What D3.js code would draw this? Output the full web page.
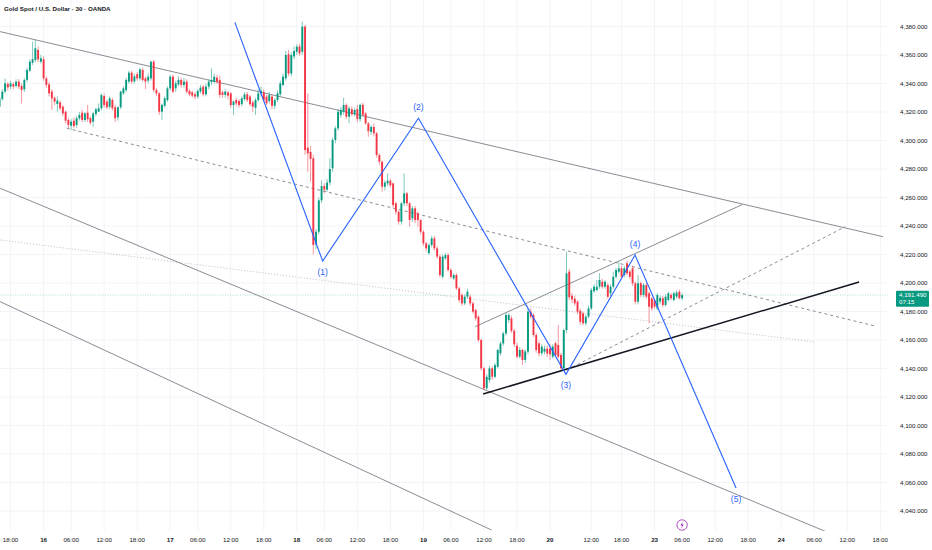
<!DOCTYPE html>
<html lang="en">
<head>
<meta charset="UTF-8">
<script src="https://d3js.org/d3.v7.min.js"></script>
<style>
  body { margin: 0; background: #fff; }
  text { font-family: "Liberation Sans", Arial, sans-serif; }
</style>
</head>
<body>
<svg id="chart" width="932" height="550"></svg>
<script>
// 30 min candles [open, high, low, close], one array per session, bars are consecutive
const day15 = [
  [4323.7,4331,4322,4329.6],[4329.2,4336,4328,4334.3],[4334.3,4343.5,4333,4340.1],[4339.7,4341,4335,4337.3],
  [4337.8,4342,4336,4340.1],[4339.5,4341,4336,4337.8],[4338.3,4343,4337,4341.3],[4341.3,4343,4336,4337.8],
  [4338.3,4340,4326,4335.4],[4335.9,4344,4334,4342.5],[4342.5,4351,4341,4349.5],[4349,4357,4348,4355.3],
  [4354.6,4369.4,4353,4357],[4356.5,4370.5,4355,4364.7],[4363.5,4366,4355,4357],[4355.3,4360,4354,4357.7]
];
const day16 = [
  [4357,4359,4342,4343.6],[4343.6,4345,4337,4339],[4339.4,4341,4331,4333.1],[4334.3,4336,4321.4,4329.6],
  [4330,4331,4325,4327.3],[4325.6,4331,4320.2,4328],[4326.8,4328,4321,4322.6],[4323.7,4325,4317,4319],
  [4320.2,4321,4312,4313.9],[4314.4,4316,4308.6,4310.9],[4310.4,4315,4307.4,4313.2],[4313.9,4316,4308.6,4310.2],
  [4310.9,4317,4309,4315.6],[4315.6,4320,4314,4317.9],[4319.5,4321.5,4313,4314.4],[4314.4,4320,4313,4319],
  [4319.5,4325,4313,4314.9],[4315.6,4317,4311,4312.5],[4313.2,4320,4309.7,4319],[4318.6,4323,4317,4321.9],
  [4320.2,4326,4320,4322.6],[4322.6,4333,4321,4331.9],[4331.2,4333,4323,4324.9],[4327.3,4328.5,4322,4323.3],
  [4323.7,4331,4322,4329.6],[4328.4,4330,4321,4322.6],[4323.3,4325,4313,4315.6],[4316.3,4324,4314,4323.3],
  [4323.3,4335,4322,4334.3],[4333.1,4338,4332,4336.6],[4335.4,4344,4334,4342.5],[4341.3,4349,4340,4347.6],
  [4347.6,4349,4340,4341.3],[4341.5,4347,4340,4345],[4346.5,4348,4342,4343.6],[4343.6,4351,4342,4349.9],
  [4349.5,4351,4341,4342.5],[4343.6,4345,4336,4341.3],[4342,4347,4340,4344.8],[4343.6,4356,4342,4355.3],
  [4355.3,4356.5,4334,4335.4],[4335.4,4337,4331,4333.1],[4333.1,4334,4318,4320.2],[4320.2,4326,4314.4,4325],
  [4324.4,4331,4323,4329.6],[4328.4,4338,4327,4336.6]
];
const day17 = [
  [4336.6,4346,4335,4344.8],[4344.8,4346,4333,4334.3],[4336.6,4342,4334,4340.1],[4339.4,4345,4338,4342.5],
  [4342.5,4344,4337,4339],[4339,4344,4337,4341.3],[4341.3,4343,4333,4334.3],[4334.8,4336,4331,4332.4],
  [4333.8,4335,4330,4331.5],[4332.4,4334,4329,4330.8],[4330.8,4336,4329.5,4334.8],[4334.3,4339,4333,4337.1],
  [4337.8,4339,4331,4332.4],[4332.4,4340,4331,4337.8],[4337.8,4343,4336,4341.3],[4341,4350.6,4339,4342.5],
  [4341.3,4347,4340,4344.8],[4344.1,4346,4340,4341.3],[4342.5,4345.5,4330,4332],[4333.8,4335,4330,4332],
  [4332,4336,4330,4334.3],[4333.8,4335,4329,4331.5],[4333.1,4334,4323,4324.9],[4324.9,4328,4318,4327.3],
  [4328.4,4330,4324,4326.1],[4327.7,4329,4323,4324.9],[4325.5,4331,4324,4329.6],[4329.1,4334,4328,4332.4],
  [4332.4,4334,4327,4328.4],[4330.8,4332,4324,4325.4],[4326.8,4328,4320,4323.7],[4323,4330,4318,4328.4],
  [4328.4,4336,4327,4333.1],[4333.1,4338,4331,4334.9],[4333.8,4336,4327,4328.4],[4330.8,4332,4325,4326.1],
  [4327.7,4334,4326,4331.9],[4330.8,4332,4322,4324.4],[4324.4,4330,4322,4328.4],[4328.4,4335,4327,4333.1],
  [4332.4,4342,4331,4340.1],[4339,4347,4338,4344.8],[4343.6,4363,4342,4360],[4360.5,4363.5,4345,4347],
  [4347,4362,4345,4360],[4359,4366,4357,4362.8]
];
const day18 = [
  [4362.3,4367.5,4360,4365.8],[4366,4368,4359.5,4361.2],[4362.3,4383.4,4360,4379.9],[4379.9,4381,4290,4293.3],
  [4295,4333.1,4278.1,4291],[4292,4296,4271.1,4287],[4287.5,4290,4220.1,4226.7],[4227,4238,4224,4236],
  [4236,4260,4234,4258],[4258,4272,4256,4268],[4268,4270,4263,4265.5],[4265.5,4273,4264,4270.5],
  [4270.5,4287.5,4268.5,4280],[4280.5,4302,4278,4300.4],[4300.4,4310,4298,4308.5],[4308.5,4322,4307,4320.2],
  [4318,4323.5,4316,4321.5],[4320.2,4330,4318,4324.9],[4324.9,4326,4315,4316.7],[4316.7,4324,4312,4322.6],
  [4322,4324,4317,4318.5],[4318.5,4323,4317,4321.4],[4322,4325,4313,4315],[4315,4326,4313,4325],
  [4325,4326.5,4317,4318],[4319,4320,4311,4312],[4312,4313,4302.7,4306.5],[4306,4311,4304,4309.5],
  [4309.5,4312,4303,4305],[4305,4306,4288,4289.8],[4289.8,4291,4283,4285.1],[4285.1,4286,4264,4267.6],
  [4267.6,4272,4265,4270.5],[4269.9,4276.9,4268,4271.8],[4271.8,4273,4267,4268.5],[4269.9,4270.5,4253,4254.7],
  [4255.9,4257,4248,4250],[4250,4251,4241,4243],[4243,4257,4241,4255.9],[4255.9,4276.9,4254,4262.9],
  [4262.9,4264,4254,4255.9],[4255.9,4257,4239.5,4244.2],[4245.3,4254,4243,4252.4],[4252.4,4254,4242,4244.2],
  [4248.9,4250,4239.5,4244.2],[4244.2,4245,4234,4236]
];
const day19 = [
  [4236,4237,4226,4227.8],[4227.8,4229,4222,4224.3],[4221,4228,4219.6,4226.6],[4226.6,4233,4225,4231.3],
  [4231.3,4233,4223,4224.3],[4224.3,4226,4217,4218.5],[4218.5,4220,4204,4205.6],[4204.4,4220,4203,4218.5],
  [4217.3,4221,4216,4219.6],[4219.6,4221,4208,4209.1],[4209.1,4210.5,4203,4204.4],[4203.2,4207,4202,4205.6],
  [4205.6,4207,4195,4196.2],[4196.2,4197.5,4186.5,4188],[4191.5,4193,4184,4185.7],[4185.7,4192,4184.5,4190.4],
  [4190.4,4196,4189,4193.9],[4190.4,4192,4184,4185.7],[4185.7,4187,4178.5,4179.9],[4181,4182,4173.5,4175.2],
  [4176.3,4177.5,4158.5,4160],[4160,4161,4138.5,4140.1],[4140.1,4141,4124.9,4126.1],[4126.1,4136,4125,4134.2],
  [4131.9,4142,4130,4140.1],[4140.1,4141.5,4132,4134.2],[4134.2,4144,4133,4142.4],[4141.2,4154,4140,4153],
  [4150.6,4159,4149,4157.6],[4157.6,4166,4156,4164.6],[4164.6,4179,4163,4177.5],[4174,4178.7,4172,4177.5],
  [4175.2,4177,4165,4166.5],[4166.5,4168,4155,4157],[4156,4158,4147,4148.3],[4148.3,4155,4147,4153],
  [4153,4154,4142.5,4146],[4146,4153.5,4144,4152],[4151.8,4182,4150,4179.9],[4179.9,4182.3,4175,4176.4],
  [4177.5,4179,4162,4163.5],[4163.5,4165,4151,4153],[4157.7,4159,4148.5,4150.7],[4150.7,4157,4149,4155.4],
  [4151.8,4156,4150,4153.9],[4153.9,4156,4148,4150.5]
];
const day20 = [
  [4154,4157,4146,4150],[4148.3,4157,4147,4155.4],[4157.7,4159,4148,4149.5],[4156.5,4170.5,4147,4148.3],
  [4149.5,4151,4139,4140.2],[4140.2,4168,4139,4167],[4167,4222,4165,4206.8],[4208,4210,4188,4190],
  [4191,4193,4186,4188.5],[4189,4191,4184,4185.7],[4186.9,4188,4178,4179.9],[4180.5,4182,4170.5,4172.8],
  [4178.7,4180,4170.3,4171.7],[4171.7,4178,4170,4176.4],[4176.4,4184,4175,4182.2],[4182.2,4196.5,4181,4195.1],
  [4194.3,4199,4193,4197.4],[4195.1,4202.1,4194,4197.4],[4197.4,4206.8,4196,4202.1],[4200.9,4203,4196,4197.4],
  [4197.4,4202,4196,4200.9],[4198.6,4200,4189,4190.4],[4192.8,4199,4191,4197.4],[4197.4,4208,4196,4204.4],
  [4204.4,4210.5,4203,4209.1],[4207.9,4215,4206.5,4210.3],[4210.3,4212,4203,4204.4],[4205.6,4212,4204,4210.3],
  [4213.8,4215.7,4205.5,4206.8],[4208,4209,4203,4204.4],[4210.3,4212,4198,4199.8],[4199.8,4201,4185,4186.9],
  [4186.9,4205.6,4185,4199.8],[4199.8,4201,4190,4191.6],[4191.6,4200,4190,4198.6],[4198.6,4200,4189,4190.4],
  [4192.8,4194,4171.7,4183.4],[4189.2,4190,4180.5,4182.2]
];
const day23 = [
  [4188,4189,4182,4183.4],[4182.2,4193,4181,4191.6],[4187,4191,4185,4189.5],[4189.3,4191,4183,4184.6],
  [4184.6,4192,4183.5,4190.4],[4188.1,4194,4187,4192.8],[4191.6,4193,4188,4189.3],[4188.1,4194,4187,4192.8],
  [4190.4,4195,4189,4193.3],[4193.9,4195.5,4188.5,4189.3],[4189.3,4193,4188,4191.49]
];
const sessions = [day15, day16, day17, day18, day19, day20, day23];
const firstBar = -16;          // bar index of first candle, session "16" opens at bar 0

const lastPrice = 4191.49;
const countdown = "07:15";
const title = "Gold Spot / U.S. Dollar · 30 · OANDA";

const priceTicks = [4040,4060,4080,4100,4120,4140,4160,4180,4200,4220,4240,4260,4280,4300,4320,4340,4360,4380];
const timeTicks = [
  [-12,"18:00"],[0,"16"],[10,"06:00"],[22,"12:00"],[34,"18:00"],[46,"17"],[56,"06:00"],[68,"12:00"],
  [80,"18:00"],[92,"18"],[102,"06:00"],[114,"12:00"],[126,"18:00"],[138,"19"],[148,"06:00"],[160,"12:00"],
  [172,"18:00"],[184,"20"],[199,"12:00"],[210,"18:00"],[222,"23"],[232,"06:00"],[244,"12:00"],[256,"18:00"],
  [268,"24"],[280,"06:00"],[292,"12:00"],[304,"18:00"]
];

// drawings, points are [bar index, price]
const wavePoints = [[69.5,4382.9],[101.4,4215.4],[136.2,4315.6],[189.8,4135.9],[214.9,4219.6],[251.6,4056.1]];
const waveLabels = ["", "(1)", "(2)", "(3)", "(4)", "(5)"];
const upperTrend   = [[-15.8,4376.4],[305,4232.5]];
const midDashed    = [[8.4,4308.6],[302.1,4169.8]];
const paleDotted   = [[-15.8,4230.2],[280.3,4158.6]];
const channelLow   = [[-15.8,4266.5],[285.8,4024.3]];
const outerLow     = [[-15.8,4186.9],[162.8,4026.6]];
const supportLine  = [[159.7,4122.1],[296.3,4200.7]];
const risingUpper  = [[156.8,4169.3],[253.8,4255]];
const risingDashed = [[190.1,4138.9],[291.2,4239.4]];

const width = 932, height = 550;
const paneRight = 888, paneBottom = 531;
const up = "#089981", down = "#f23645";

const svg = d3.select("#chart");
svg.append("rect").attr("width", width).attr("height", height).attr("fill", "#fff");

const x = d3.scaleLinear().domain([0, 184]).range([43.6, 550]);
const y = d3.scaleLinear().domain([4040, 4380]).range([511, 26.5]);

svg.append("clipPath").attr("id", "pane")
  .append("rect").attr("width", paneRight).attr("height", paneBottom);

// faint grid
const grid = svg.append("g").attr("clip-path", "url(#pane)");
grid.selectAll(".vg").data(timeTicks).enter().append("line")
  .attr("x1", d => x(d[0])).attr("x2", d => x(d[0]))
  .attr("y1", 0).attr("y2", paneBottom)
  .attr("stroke", "#f3f4f8").attr("stroke-width", 1);
grid.selectAll(".hg").data(priceTicks).enter().append("line")
  .attr("x1", 0).attr("x2", paneRight)
  .attr("y1", d => y(d)).attr("y2", d => y(d))
  .attr("stroke", "#f3f4f8").attr("stroke-width", 1);

const pane = svg.append("g").attr("clip-path", "url(#pane)");

// last price line
pane.append("line")
  .attr("x1", 0).attr("x2", paneRight)
  .attr("y1", y(lastPrice)).attr("y2", y(lastPrice))
  .attr("stroke", up).attr("stroke-opacity", 0.45)
  .attr("stroke-width", 0.7).attr("stroke-dasharray", "1,1.5");

const seg = (pts, stroke, w, dash) => {
  pane.append("line")
    .attr("x1", x(pts[0][0])).attr("y1", y(pts[0][1]))
    .attr("x2", x(pts[1][0])).attr("y2", y(pts[1][1]))
    .attr("stroke", stroke).attr("stroke-width", w)
    .attr("stroke-dasharray", dash || null);
};
seg(paleDotted, "#b7b9c2", 0.8, "1.2,1.8");
seg(upperTrend, "#6b6e78", 0.8);
seg(midDashed, "#6b6e78", 0.8, "3,3");
seg(channelLow, "#6b6e78", 0.8);
seg(outerLow, "#6b6e78", 0.8);
seg(risingUpper, "#6b6e78", 0.8);
seg(risingDashed, "#6b6e78", 0.8, "3,3");

// candles
const bars = sessions.flat().map((d, k) => ({ i: firstBar + k, o: d[0], h: d[1], l: d[2], c: d[3] }));

pane.selectAll(".wick").data(bars).enter().append("line")
  .attr("x1", d => x(d.i)).attr("x2", d => x(d.i))
  .attr("y1", d => y(d.h)).attr("y2", d => y(d.l))
  .attr("stroke", d => d.c >= d.o ? up : down)
  .attr("stroke-width", 0.7).attr("stroke-opacity", 0.75);

pane.selectAll(".body").data(bars).enter().append("rect")
  .attr("x", d => x(d.i) - 0.95)
  .attr("width", 1.9)
  .attr("y", d => y(Math.max(d.o, d.c)))
  .attr("height", d => Math.max(0.7, Math.abs(y(d.o) - y(d.c))))
  .attr("fill", d => d.c >= d.o ? up : down);

seg(supportLine, "#131722", 1.5);

// elliott wave
pane.append("path")
  .datum(wavePoints)
  .attr("d", d3.line().x(d => x(d[0])).y(d => y(d[1])))
  .attr("fill", "none").attr("stroke", "#2962ff").attr("stroke-width", 1.1);

pane.selectAll(".wl").data(wavePoints.slice(1)).enter().append("text")
  .attr("x", d => x(d[0]))
  .attr("y", (d, k) => y(d[1]) + (k % 2 === 0 ? 14 : -8))
  .attr("text-anchor", "middle")
  .style("font-size", "8.5px")
  .attr("fill", "#2962ff")
  .text((d, k) => waveLabels[k + 1]);

// title
svg.append("text")
  .attr("x", 4).attr("y", 10.5)
  .style("font-size", "6.2px").style("font-weight", "bold")
  .attr("fill", "#131722")
  .text(title);

// price axis
svg.selectAll(".pt").data(priceTicks).enter().append("text")
  .attr("x", 900).attr("y", d => y(d) + 2.2)
  .style("font-size", "6.2px").attr("fill", "#131722")
  .text(d => d3.format(",.3f")(d));

const py = y(lastPrice);
svg.append("rect")
  .attr("x", 896).attr("y", py - 4.5).attr("width", 33).attr("height", 16)
  .attr("rx", 1).attr("fill", up);
svg.append("text").attr("x", 899).attr("y", py + 1.8)
  .style("font-size", "6.2px").attr("fill", "#fff").text(d3.format(",.3f")(lastPrice));
svg.append("text").attr("x", 899).attr("y", py + 9.3)
  .style("font-size", "6.2px").attr("fill", "#fff").text(countdown);

// time axis
svg.selectAll(".tt").data(timeTicks).enter().append("text")
  .attr("x", d => x(d[0])).attr("y", 542)
  .attr("text-anchor", "middle")
  .style("font-size", "6.2px")
  .style("font-weight", d => d[1].length <= 2 ? "bold" : "normal")
  .attr("fill", "#131722")
  .text(d => d[1]);

// event marker on the time axis
const mx = x(bars[bars.length - 1].i), my = 525;
svg.append("circle").attr("cx", mx).attr("cy", my).attr("r", 5.2)
  .attr("fill", "#fff").attr("stroke", "#9c27b0").attr("stroke-width", 0.8);
svg.append("path")
  .attr("d", `M${mx + 0.8},${my - 3.4} L${mx - 1.6},${my + 0.4} L${mx},${my + 0.4} L${mx - 0.8},${my + 3.4} L${mx + 1.6},${my - 0.6} L${mx},${my - 0.6} Z`)
  .attr("fill", "#9c27b0");
</script>
</body>
</html>
